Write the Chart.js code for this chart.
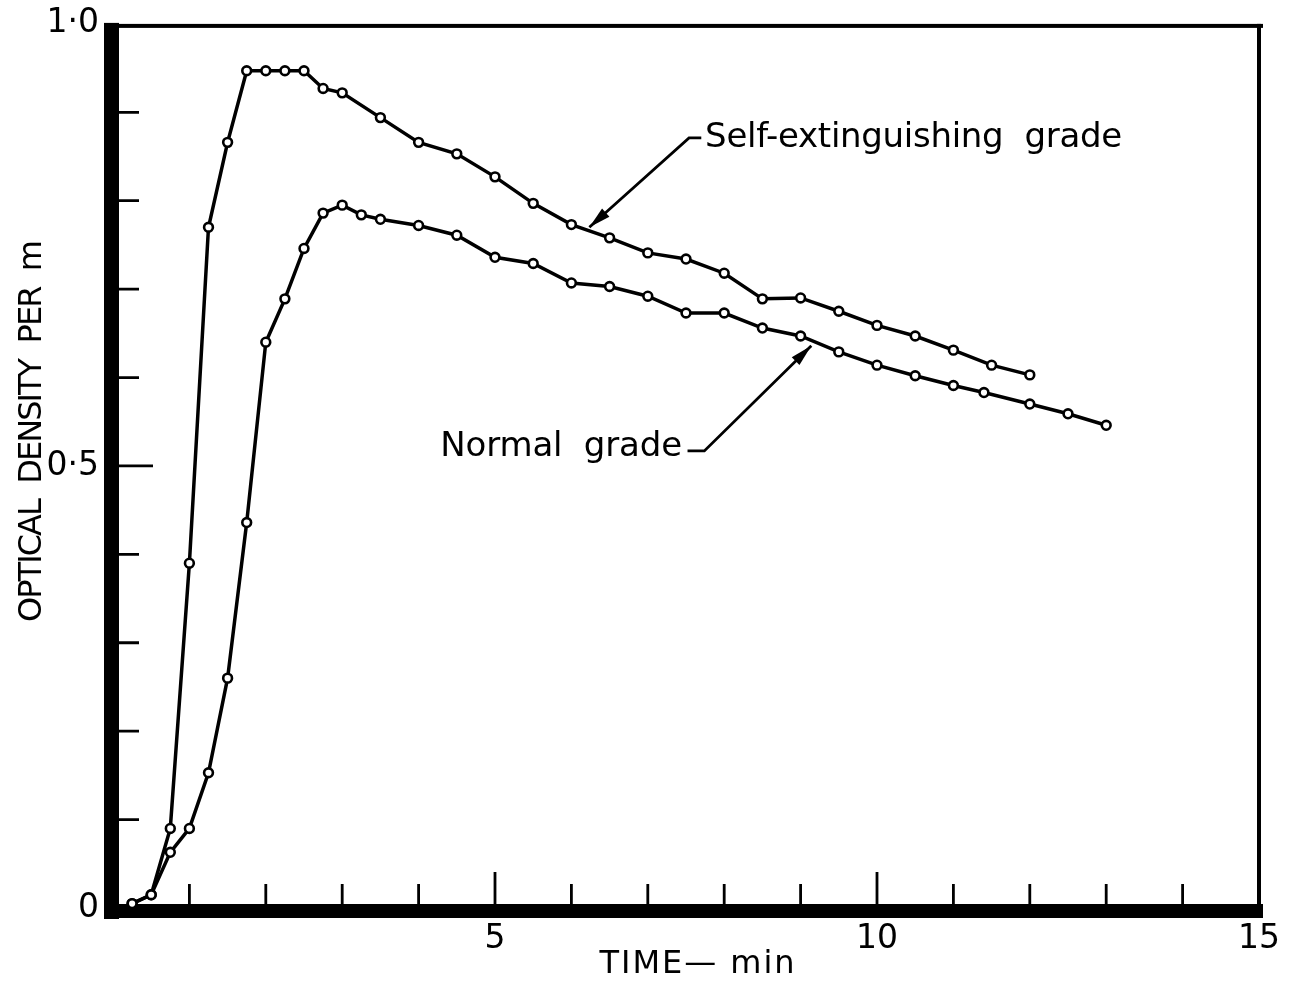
<!DOCTYPE html>
<html>
<head>
<meta charset="utf-8">
<script src="https://cdn.jsdelivr.net/npm/chart.js@4.4.1/dist/chart.umd.min.js"></script>
<style>
  html, body { margin: 0; padding: 0; background: #ffffff; }
  #wrap { width: 1292px; height: 984px; position: relative; }
</style>
</head>
<body>
<div id="wrap"><canvas id="c" width="1292" height="984"></canvas></div>
<script>
// ---- data ----
const selfTime = [0.25, 0.5, 0.75, 1.0, 1.25, 1.5, 1.75, 2.0, 2.25, 2.5, 2.75, 3.0, 3.5, 4.0, 4.5, 5.0, 5.5, 6.0, 6.5, 7.0, 7.5, 8.0, 8.5, 9.0, 9.5, 10.0, 10.5, 11.0, 11.5, 12.0];
const selfOD   = [0.005, 0.015, 0.09, 0.39, 0.77, 0.866, 0.947, 0.947, 0.947, 0.947, 0.927, 0.922, 0.894, 0.866, 0.853, 0.827, 0.797, 0.773, 0.758, 0.741, 0.734, 0.718, 0.689, 0.690, 0.675, 0.659, 0.647, 0.631, 0.614, 0.603];
const normalTime = [0.25, 0.5, 0.75, 1.0, 1.25, 1.5, 1.75, 2.0, 2.25, 2.5, 2.75, 3.0, 3.25, 3.5, 4.0, 4.5, 5.0, 5.5, 6.0, 6.5, 7.0, 7.5, 8.0, 8.5, 9.0, 9.5, 10.0, 10.5, 11.0, 11.4, 12.0, 12.5, 13.0];
const normalOD   = [0.005, 0.015, 0.063, 0.09, 0.153, 0.26, 0.436, 0.640, 0.689, 0.746, 0.786, 0.795, 0.784, 0.779, 0.772, 0.761, 0.736, 0.729, 0.707, 0.703, 0.692, 0.673, 0.673, 0.656, 0.647, 0.629, 0.614, 0.602, 0.591, 0.583, 0.570, 0.559, 0.546];
const xTickLabels = {5: '5', 10: '10', 15: '15'};
const yTickLabels = {0: '0', 5: '0·5', 10: '1·0'};
const seriesNames = ['Self-extinguishing  grade', 'Normal  grade'];
const xTitle = 'TIME— min';
const yTitle = 'OPTICAL  DENSITY  PER  m';

const toPts = (xs, ys) => xs.map((x, i) => ({x: x, y: ys[i]}));
const FONT = '"DejaVu Sans", "Liberation Sans", sans-serif';

function fitText(ctx, text, x, y, targetW, align) {
  ctx.save();
  let w = ctx.measureText(text).width;
  if ('letterSpacing' in ctx && text.length > 1) {
    const sp = (targetW - w) / (text.length - 1);
    ctx.letterSpacing = sp.toFixed(2) + 'px';
  }
  let sx = x;
  if (align === 'center') sx = x - targetW / 2;
  else if (align === 'right') sx = x - targetW;
  ctx.textAlign = 'left';
  ctx.fillText(text, sx, y);
  ctx.restore();
}

const framePlugin = {
  id: 'frame',
  beforeDatasetsDraw(chart) {
    const ctx = chart.ctx;
    const xs = chart.scales.x, ys = chart.scales.y;
    const x0 = xs.getPixelForValue(0), x15 = xs.getPixelForValue(15);
    const y0 = ys.getPixelForValue(0), y1 = ys.getPixelForValue(1);
    ctx.save();
    ctx.fillStyle = '#000';
    // thick left axis and bottom axis
    ctx.fillRect(x0 - 9, y1 - 1, 15, y0 - y1 + 12);
    ctx.fillRect(x0 - 9, y0 - 4, x15 - x0 + 13, 14);
    // thin top and right borders
    ctx.fillRect(x0 - 9, y1, x15 - x0 + 13, 4);
    ctx.fillRect(x15 - 2, y1, 4, y0 - y1 + 6);
    // inward ticks
    ctx.strokeStyle = '#000';
    ctx.lineWidth = 2.8;
    ctx.beginPath();
    for (let v = 1; v < 15; v++) {
      const px = xs.getPixelForValue(v);
      const len = (v % 5 === 0) ? 36 : 24;
      ctx.moveTo(px, y0 - 2);
      ctx.lineTo(px, y0 - len);
    }
    for (let k = 1; k < 10; k++) {
      const py = ys.getPixelForValue(k / 10);
      const len = (k === 5) ? 40 : 26;
      ctx.moveTo(x0 + 4, py);
      ctx.lineTo(x0 + len, py);
    }
    ctx.stroke();
    ctx.restore();
  },
  afterDraw(chart) {
    const ctx = chart.ctx;
    const xs = chart.scales.x, ys = chart.scales.y;
    const P = (x, y) => [xs.getPixelForValue(x), ys.getPixelForValue(y)];
    ctx.save();
    ctx.fillStyle = '#000';
    ctx.strokeStyle = '#000';
    ctx.lineWidth = 2.8;
    ctx.textBaseline = 'middle';

    function arrow(points) {
      ctx.beginPath();
      ctx.moveTo(points[0][0], points[0][1]);
      for (let i = 1; i < points.length; i++) ctx.lineTo(points[i][0], points[i][1]);
      ctx.stroke();
      const tip = points[points.length - 1], prev = points[points.length - 2];
      const ang = Math.atan2(tip[1] - prev[1], tip[0] - prev[0]);
      const L = 22, W = 5.5;
      ctx.beginPath();
      ctx.moveTo(tip[0], tip[1]);
      ctx.lineTo(tip[0] - L * Math.cos(ang) + W * Math.sin(ang), tip[1] - L * Math.sin(ang) - W * Math.cos(ang));
      ctx.lineTo(tip[0] - L * Math.cos(ang) - W * Math.sin(ang), tip[1] - L * Math.sin(ang) + W * Math.cos(ang));
      ctx.closePath();
      ctx.fill();
    }
    // self-extinguishing label
    arrow([P(7.70, 0.871), P(7.54, 0.871), P(6.235, 0.770)]);
    ctx.font = '34px ' + FONT;
    const sp = P(7.75, 0.871);
    fitText(ctx, seriesNames[0], sp[0], sp[1], 417, 'left');
    // normal label
    arrow([P(7.52, 0.517), P(7.74, 0.517), P(9.14, 0.636)]);
    const np = P(7.45, 0.521);
    fitText(ctx, seriesNames[1], np[0], np[1], 242, 'right');

    // axis titles
    ctx.font = '32px ' + FONT;
    fitText(ctx, xTitle, 697, 965, 195, 'center');
    ctx.translate(33, 431);
    ctx.rotate(-Math.PI / 2);
    fitText(ctx, yTitle, 0, 0, 382, 'center');
    ctx.restore();
  }
};

const ds = (pts) => ({
  data: pts,
  borderColor: '#000',
  borderWidth: 3.5,
  backgroundColor: '#fff',
  pointBackgroundColor: '#fff',
  pointBorderColor: '#000',
  pointBorderWidth: 2.6,
  pointRadius: 4.4,
  pointHoverRadius: 4.4,
  tension: 0,
  fill: false,
  clip: false
});

new Chart(document.getElementById('c'), {
  type: 'line',
  data: {
    datasets: [ds(toPts(selfTime, selfOD)), ds(toPts(normalTime, normalOD))]
  },
  plugins: [framePlugin],
  options: {
    responsive: false,
    animation: false,
    devicePixelRatio: 1,
    layout: { padding: { top: 22, right: 33, left: 0, bottom: 0 } },
    plugins: { legend: { display: false }, tooltip: { enabled: false }, title: { display: false } },
    scales: {
      x: {
        type: 'linear', min: 0, max: 15,
        afterFit(s) { s.height = 76; },
        grid: { display: false, drawTicks: false },
        border: { display: false },
        ticks: {
          stepSize: 1, autoSkip: false, maxRotation: 0, padding: 12,
          color: '#000', font: { family: FONT, size: 33 },
          callback: (v) => xTickLabels[v] || ''
        }
      },
      y: {
        type: 'linear', min: 0, max: 1,
        afterFit(s) { s.width = 113; },
        grid: { display: false, drawTicks: false },
        border: { display: false },
        ticks: {
          stepSize: 0.1, autoSkip: false, padding: 14,
          color: '#000', font: { family: FONT, size: 33, lineHeight: 0.6 },
          callback: (v) => yTickLabels[Math.round(v * 10)] || ''
        }
      }
    }
  }
});
</script>
</body>
</html>
